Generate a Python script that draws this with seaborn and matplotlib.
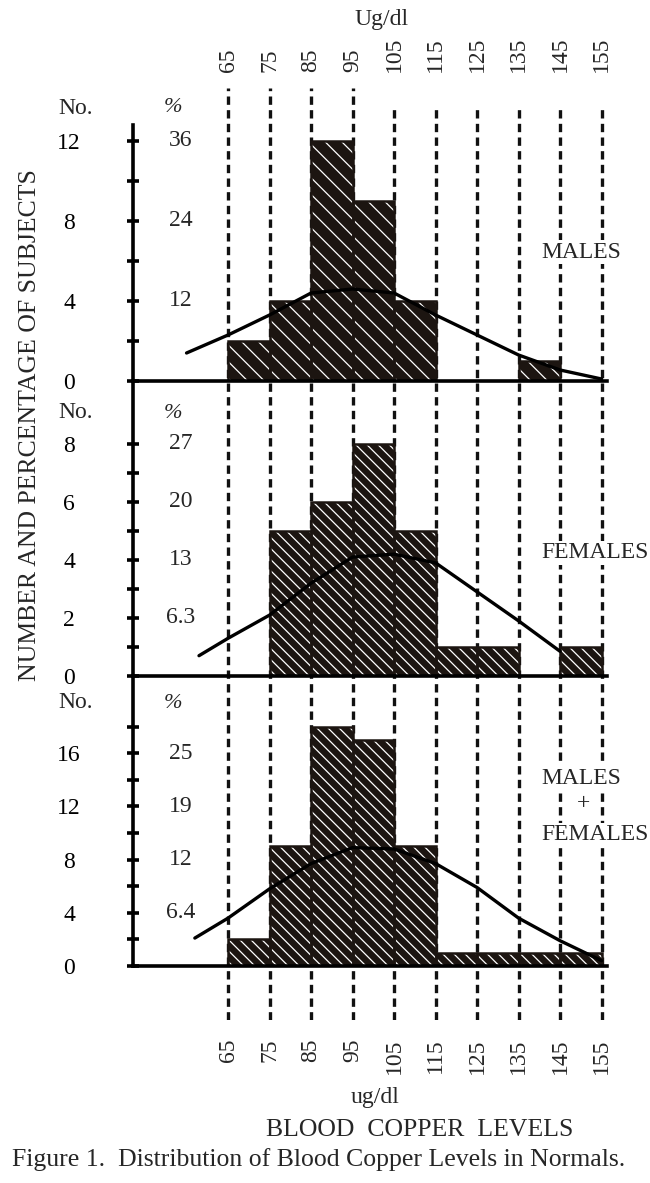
import matplotlib
matplotlib.use('Agg')
import matplotlib.pyplot as plt
import seaborn as sns
from matplotlib.transforms import blended_transform_factory

#### Data

# bin edges / centres of blood copper level (ug/dl)
edges = [65, 75, 85, 95, 105, 115, 125, 135, 145, 155]
mids = [70, 80, 90, 100, 110, 120, 130, 140, 150]

# number of subjects per bin
males = [2, 4, 12, 9, 4, 0, 0, 1, 0]
females = [0, 5, 6, 8, 5, 1, 1, 0, 1]
both = [m + f for m, f in zip(males, females)]

# fitted normal curves (approximate points)
males_cx = [55, 65, 75, 85, 95, 105, 115, 125, 135, 145, 155]
males_cy = [1.4, 2.3, 3.3, 4.4, 4.6, 4.4, 3.3, 2.3, 1.3, 0.55, 0.1]
females_cx = [58, 65, 75, 85, 95, 105, 115, 125, 135, 145]
females_cy = [0.7, 1.3, 2.1, 3.2, 4.1, 4.2, 3.9, 2.9, 1.9, 0.85]
both_cx = [57, 65, 75, 85, 95, 105, 115, 125, 135, 145, 155]
both_cy = [2.1, 3.6, 5.8, 7.7, 8.9, 8.8, 7.7, 5.9, 3.6, 1.9, 0.4]

# axis ticks: count column and percent column
males_ticks = [0, 2, 4, 6, 8, 10, 12]
males_no = ['0', '', '4', '', '8', '', '12']
males_pct_at = [4, 8, 12]
males_pct = ['12', '24', '36']

females_ticks = [0, 1, 2, 3, 4, 5, 6, 7, 8]
females_no = ['0', '', '2', '', '4', '', '6', '', '8']
females_pct_at = [2, 4, 6, 8]
females_pct = ['6.3', '13', '20', '27']

both_ticks = [0, 2, 4, 6, 8, 10, 12, 14, 16, 18]
both_no = ['0', '', '4', '', '8', '', '12', '', '16', '']
both_pct_at = [4, 8, 12, 16]
both_pct = ['6.4', '12', '19', '25']

edge_labels = [str(e) for e in edges]

#### Plotting
sns.set_style('white')
plt.rcParams['font.family'] = ['Liberation Serif', 'DejaVu Serif']
plt.rcParams['hatch.linewidth'] = 0.9

W, H = 650, 1183
fig = plt.figure(figsize=(W / 100, H / 100), dpi=100)
fig.patch.set_facecolor('white')

def px(x, y):
    return x / W, 1 - y / H

def rect(top, bottom):
    return [133 / W, 1 - bottom / H, (607 - 133) / W, (bottom - top) / H]

dark = '#1c1511'
XLIM = (42.1, 156.3)
FS = 17

# background axes holding the dashed bin-edge lines
bg = fig.add_axes([133 / W, 1 - 1020 / H, (607 - 133) / W, (1020 - 88) / H])
bg.set_xlim(XLIM)
bg.set_ylim(0, 1)
bg.axis('off')
for e in edges:
    top = 1.0 if e < 100 else (1020 - 107) / (1020 - 88)
    bg.vlines(e, 0, top, colors='#111111', linewidth=2.4,
              linestyles=(0, (2.5, 1.6)))

ax1 = fig.add_axes(rect(125, 381))
ax2 = fig.add_axes(rect(381, 676))
ax3 = fig.add_axes(rect(676, 966))

panels = [
    (ax1, males, males_cx, males_cy, 12.8, males_ticks, males_no, males_pct_at, males_pct, '\\\\'),
    (ax2, females, females_cx, females_cy, 10.17, females_ticks, females_no, females_pct_at, females_pct, '\\\\\\'),
    (ax3, both, both_cx, both_cy, 21.8, both_ticks, both_no, both_pct_at, both_pct, '\\\\\\'),
]

for ax, counts, cx, cy, ytop, ticks, nos, pct_at, pct, hatch in panels:
    ax.set_zorder(2)
    ax.patch.set_alpha(0)
    sns.histplot(x=mids, weights=counts, bins=edges, ax=ax, color=dark,
                 edgecolor='white', linewidth=0, hatch=hatch, alpha=1)
    sns.histplot(x=mids, weights=counts, bins=edges, ax=ax, fill=False,
                 color=dark, linewidth=1.8)
    sns.lineplot(x=cx, y=cy, ax=ax, color='black', linewidth=2.4)
    ax.set_xlim(XLIM)
    ax.set_ylim(0, ytop)
    ax.set_xlabel('')
    ax.set_ylabel('')
    for s in ['top', 'right']:
        ax.spines[s].set_visible(False)
    for s in ['left', 'bottom']:
        ax.spines[s].set_linewidth(2.6)
        ax.spines[s].set_color('black')
    ax.set_yticks(ticks, nos)
    ax.tick_params(axis='y', left=True, direction='inout', length=8, width=2.6,
                   pad=42, labelsize=FS, colors='black')
    for lab in ax.get_yticklabels():
        lab.set_ha('center')
    ax.set_xticks([])
    tr = blended_transform_factory(fig.transFigure, ax.transData)
    for v, t in zip(pct_at, pct):
        ax.text(181 / W, v, t, transform=tr, ha='center', va='center',
                fontsize=FS)

# top and bottom scales
ax1.set_xticks(edges, edge_labels, rotation=90)
ax1.tick_params(axis='x', length=0, labelbottom=False, labeltop=True,
                pad=38, labelsize=FS)
ax3.set_xticks(edges, edge_labels, rotation=90)
ax3.tick_params(axis='x', length=0, pad=52, labelsize=FS)

# column headers
for y in [108, 413, 703]:
    fig.text(*px(76, y), 'No.', ha='center', va='center', fontsize=FS)
    fig.text(*px(173, y), '%', ha='center', va='center', fontsize=FS - 1,
             style='italic')

# group names
box = dict(facecolor='white', edgecolor='none', pad=1)
fig.text(*px(541, 252), 'MALES', ha='left', va='center', fontsize=FS, bbox=box)
fig.text(*px(541, 553), 'FEMALES', ha='left', va='center', fontsize=FS, bbox=box)
fig.text(*px(541, 778), 'MALES', ha='left', va='center', fontsize=FS, bbox=box)
fig.text(*px(583, 804), '+', ha='center', va='center', fontsize=FS, bbox=box)
fig.text(*px(541, 835), 'FEMALES', ha='left', va='center', fontsize=FS, bbox=box)

# labels
fig.text(*px(382, 20), 'Ug/dl', ha='center', va='center', fontsize=FS)
fig.text(*px(375, 1098), 'ug/dl', ha='center', va='center', fontsize=FS)
fig.text(*px(420, 1130), 'BLOOD  COPPER  LEVELS', ha='center', va='center',
         fontsize=18.5)
fig.text(*px(30, 425), 'NUMBER AND PERCENTAGE OF SUBJECTS', rotation=90,
         ha='center', va='center', fontsize=18.5)
fig.text(*px(12, 1160), 'Figure 1.  Distribution of Blood Copper Levels in Normals.',
         ha='left', va='center', fontsize=18.5)

plt.savefig('out.png', dpi=100, facecolor='white')
